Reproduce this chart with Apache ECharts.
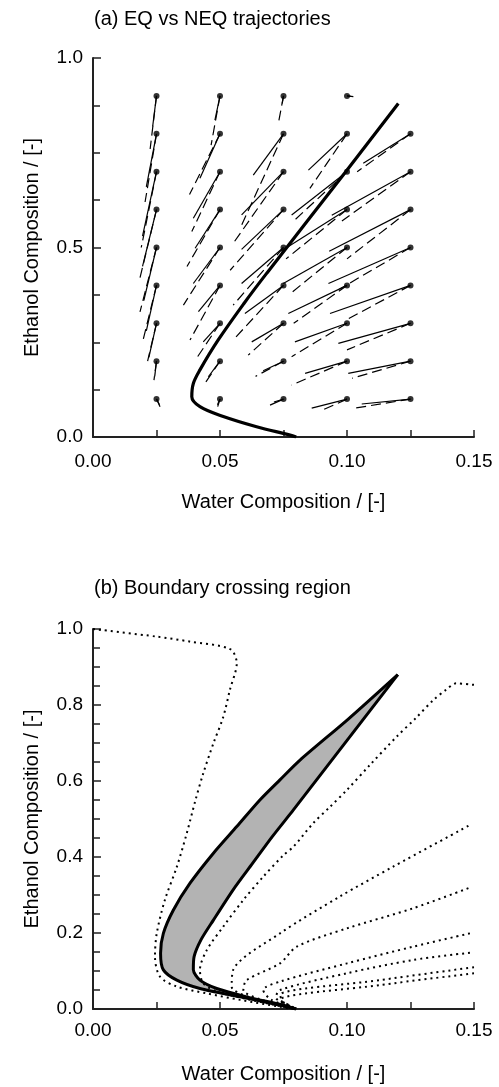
<!DOCTYPE html>
<html>
<head>
<meta charset="utf-8">
<script src="https://cdn.jsdelivr.net/npm/echarts/dist/echarts.min.js"></script>
<style>
html, body { margin: 0; padding: 0; background: #fff; }
#chart { width: 499px; height: 1087px; }
</style>
</head>
<body>
<div id="chart"></div>
<script>
// (a) trajectory start points, column by column
const startPts = [
	[0.025, 0.9], [0.025, 0.8], [0.025, 0.7], [0.025, 0.6], [0.025, 0.5], [0.025, 0.4], [0.025, 0.3], [0.025, 0.2], [0.025, 0.1],
	[0.05, 0.9], [0.05, 0.8], [0.05, 0.7], [0.05, 0.6], [0.05, 0.5], [0.05, 0.4], [0.05, 0.3], [0.05, 0.2], [0.05, 0.1],
	[0.075, 0.9], [0.075, 0.8], [0.075, 0.7], [0.075, 0.6], [0.075, 0.5], [0.075, 0.4], [0.075, 0.3], [0.075, 0.2], [0.075, 0.1],
	[0.1, 0.9], [0.1, 0.8], [0.1, 0.7], [0.1, 0.6], [0.1, 0.5], [0.1, 0.4], [0.1, 0.3], [0.1, 0.2], [0.1, 0.1],
	[0.125, 0.8], [0.125, 0.7], [0.125, 0.6], [0.125, 0.5], [0.125, 0.4], [0.125, 0.3], [0.125, 0.2], [0.125, 0.1]
];
// EQ trajectory ends (solid)
const eqEnds = [
	[0.0235, 0.82], [0.021, 0.66], [0.0195, 0.53], [0.0195, 0.45], [0.020, 0.36], [0.021, 0.28], [0.022, 0.21], [0.0243, 0.16], [0.0264, 0.08],
	[0.048, 0.836], [0.0421, 0.683], [0.0395, 0.577], [0.0402, 0.498], [0.0395, 0.405], [0.0415, 0.331], [0.0434, 0.251], [0.0454, 0.159], [0.0491, 0.08],
	[0.0745, 0.88], [0.0631, 0.691], [0.0585, 0.586], [0.0585, 0.495], [0.0585, 0.405], [0.0598, 0.326], [0.0625, 0.251], [0.067, 0.175], [0.0697, 0.084],
	[0.1025, 0.898], [0.0848, 0.704], [0.0782, 0.586], [0.074, 0.49], [0.0749, 0.405], [0.0769, 0.326], [0.0795, 0.251], [0.0835, 0.168], [0.0861, 0.076],
	[0.1064, 0.722], [0.094, 0.585], [0.093, 0.49], [0.0927, 0.405], [0.0933, 0.326], [0.0966, 0.247], [0.1005, 0.168], [0.1058, 0.087]
];
// NEQ trajectory ends (dashed)
const neqEnds = [
	[0.0225, 0.76], [0.0205, 0.62], [0.019, 0.50], [0.0185, 0.42], [0.0185, 0.33], [0.0195, 0.25], [0.0215, 0.20], [0.024, 0.15], [0.0262, 0.085],
	[0.0465, 0.77], [0.038, 0.64], [0.0389, 0.542], [0.037, 0.45], [0.0356, 0.348], [0.0382, 0.256], [0.0408, 0.208], [0.0441, 0.142], [0.049, 0.085],
	[0.073, 0.828], [0.0585, 0.559], [0.0552, 0.511], [0.054, 0.44], [0.0552, 0.348], [0.0552, 0.256], [0.0611, 0.216], [0.064, 0.16], [0.07, 0.09],
	[0.1015, 0.899], [0.0854, 0.656], [0.079, 0.57], [0.076, 0.47], [0.078, 0.38], [0.079, 0.30], [0.0782, 0.212], [0.0782, 0.137], [0.09, 0.07],
	[0.104, 0.70], [0.098, 0.57], [0.1, 0.47], [0.097, 0.39], [0.100, 0.31], [0.100, 0.23], [0.102, 0.155], [0.103, 0.076]
];
// distillation boundary in (a)
const boundaryA = [
	[0.08, 0.0], [0.0776, 0.005], [0.0644, 0.027], [0.0513, 0.054], [0.0421, 0.08], [0.0389, 0.106], [0.0395, 0.141],
	[0.0421, 0.177], [0.0493, 0.256], [0.0595, 0.353], [0.0685, 0.433], [0.0995, 0.70], [0.1202, 0.88]
];

// (b) crossing region edges
const regionLeft = [
	[0.12, 0.88], [0.1005, 0.763], [0.0815, 0.655], [0.0736, 0.603], [0.0657, 0.55], [0.0566, 0.48],
	[0.0474, 0.41], [0.0382, 0.331], [0.0316, 0.26], [0.0277, 0.199], [0.0266, 0.147], [0.0277, 0.103], [0.033, 0.076],
	[0.0421, 0.054], [0.0579, 0.032], [0.075, 0.008], [0.08, 0.0]
];
const regionRight = [
	[0.12, 0.88], [0.0789, 0.524], [0.0705, 0.453], [0.0628, 0.383], [0.0551, 0.313], [0.0474, 0.234], [0.0425, 0.182],
	[0.0398, 0.138], [0.0395, 0.103], [0.0421, 0.076], [0.0487, 0.054], [0.0605, 0.032], [0.075, 0.01], [0.08, 0.0]
];
// (b) dotted boundaries
const dotted1 = [
	[0, 1.0], [0.025, 0.98], [0.038, 0.967], [0.054, 0.947], [0.0566, 0.91], [0.0539, 0.84], [0.0513, 0.769], [0.0474, 0.699],
	[0.0434, 0.62], [0.0402, 0.546], [0.0369, 0.462], [0.033, 0.374], [0.0283, 0.287], [0.0251, 0.199], [0.0244, 0.138],
	[0.0264, 0.085], [0.033, 0.059], [0.0448, 0.041], [0.0579, 0.024], [0.0736, 0.006], [0.078, 0.0]
];
const dotted2 = [
	[0.15, 0.853], [0.143, 0.857], [0.139, 0.84], [0.134, 0.813], [0.127, 0.765], [0.1196, 0.717], [0.109, 0.642], [0.0999, 0.576],
	[0.0933, 0.532], [0.0867, 0.489], [0.0789, 0.427], [0.075, 0.405], [0.067, 0.348], [0.0592, 0.287], [0.0513, 0.217],
	[0.0448, 0.155], [0.0421, 0.103], [0.0434, 0.068], [0.0487, 0.046], [0.06, 0.027], [0.075, 0.006]
];
const dotted3 = [[0.1478, 0.482], [0.118, 0.374], [0.0972, 0.296], [0.0736, 0.199], [0.0552, 0.103], [0.0546, 0.059], [0.062, 0.03], [0.075, 0.008]];
const dotted4 = [[0.1478, 0.318], [0.126, 0.265], [0.0999, 0.212], [0.0802, 0.164], [0.0736, 0.12], [0.0605, 0.076], [0.0592, 0.05], [0.066, 0.025], [0.077, 0.005]];
const dotted5 = [[0.1484, 0.199], [0.126, 0.164], [0.0999, 0.12], [0.0736, 0.072], [0.067, 0.05], [0.07, 0.025], [0.078, 0.004]];
const dotted6 = [[0.1484, 0.148], [0.126, 0.129], [0.0999, 0.094], [0.0736, 0.05], [0.072, 0.03], [0.078, 0.006]];
const dotted7 = [[0.15, 0.11], [0.113, 0.076], [0.0736, 0.037], [0.075, 0.018], [0.079, 0.004]];
const dotted8 = [[0.15, 0.094], [0.113, 0.063], [0.0736, 0.024], [0.079, 0.004]];

const font = "'Liberation Sans', Arial, Helvetica, sans-serif";
const ink = "#222";

function xAxis(gridIndex, labelGap) {
	return {
		type: "value",
		gridIndex: gridIndex,
		min: 0,
		max: 0.15,
		interval: 0.05,
		name: "Water Composition / [-]",
		nameLocation: "middle",
		nameGap: 55,
		nameTextStyle: { fontSize: 20, color: "#000", fontFamily: font },
		axisLine: { show: true, lineStyle: { color: ink, width: 2 } },
		axisTick: { show: true, inside: true, length: 7, lineStyle: { color: ink, width: 1.5 } },
		minorTick: { show: true, splitNumber: 2, length: 7, lineStyle: { color: ink, width: 1.5 } },
		axisLabel: { fontSize: 19, color: "#000", fontFamily: font, margin: labelGap, formatter: (v) => v.toFixed(2) },
		splitLine: { show: false },
	};
}

function yAxis(gridIndex, step, minorSplit) {
	return {
		type: "value",
		gridIndex: gridIndex,
		min: 0,
		max: 1,
		interval: step,
		name: "Ethanol Composition / [-]",
		nameLocation: "middle",
		nameGap: 51,
		nameTextStyle: { fontSize: 20, color: "#000", fontFamily: font },
		axisLine: { show: true, lineStyle: { color: ink, width: 2 } },
		axisTick: { show: true, inside: true, length: 8, lineStyle: { color: ink, width: 1.5 } },
		minorTick: { show: true, splitNumber: minorSplit, length: 7, lineStyle: { color: ink, width: 1.5 } },
		axisLabel: { fontSize: 19, color: "#000", fontFamily: font, margin: 10, formatter: (v) => v.toFixed(1) },
		splitLine: { show: false },
	};
}

function segs(ends) {
	return startPts.map((p, i) => ({ coords: [p, ends[i]] }));
}

function dottedLine(pts) {
	return {
		type: "line",
		xAxisIndex: 1,
		yAxisIndex: 1,
		data: pts,
		symbol: "none",
		smooth: 0.3,
		silent: true,
		lineStyle: { color: "#000", width: 2, type: [2, 4] },
		z: 3,
	};
}

const regionPoly = regionLeft.concat(regionRight.slice().reverse());

var chart = echarts.init(document.getElementById("chart"), null, { renderer: "canvas" });

var option = {
	animation: false,
	backgroundColor: "#fff",
	title: [
		{ text: "(a) EQ vs NEQ trajectories", left: 94, top: 9, padding: 0, textStyle: { fontSize: 20, fontWeight: "normal", color: "#000", fontFamily: font } },
		{ text: "(b) Boundary crossing region", left: 94, top: 578, padding: 0, textStyle: { fontSize: 20, fontWeight: "normal", color: "#000", fontFamily: font } },
	],
	grid: [
		{ left: 93, top: 58, width: 381, height: 379 },
		{ left: 93, top: 629, width: 381, height: 380 },
	],
	xAxis: [xAxis(0, 15), xAxis(1, 12)],
	yAxis: [yAxis(0, 0.5, 4), yAxis(1, 0.2, 4)],
	series: [
		{
			type: "lines",
			coordinateSystem: "cartesian2d",
			xAxisIndex: 0,
			yAxisIndex: 0,
			data: segs(eqEnds),
			silent: true,
			lineStyle: { color: "#000", width: 1.2, opacity: 1 },
		},
		{
			type: "lines",
			coordinateSystem: "cartesian2d",
			xAxisIndex: 0,
			yAxisIndex: 0,
			data: segs(neqEnds),
			silent: true,
			lineStyle: { color: "#000", width: 1.2, opacity: 1, type: [10, 5] },
		},
		{
			type: "scatter",
			xAxisIndex: 0,
			yAxisIndex: 0,
			data: startPts,
			symbolSize: 6,
			itemStyle: { color: "#000" },
			silent: true,
		},
		{
			type: "line",
			xAxisIndex: 0,
			yAxisIndex: 0,
			data: boundaryA,
			symbol: "none",
			smooth: 0.35,
			silent: true,
			lineStyle: { color: "#000", width: 3.2 },
			z: 4,
		},
		{
			type: "custom",
			xAxisIndex: 1,
			yAxisIndex: 1,
			data: regionPoly,
			silent: true,
			z: 1,
			renderItem: function (params, api) {
				if (params.dataIndex !== 0) return null;
				return {
					type: "polygon",
					shape: { points: regionPoly.map((p) => api.coord(p)) },
					style: { fill: "#b3b3b3", stroke: null },
				};
			},
		},
		{
			type: "line",
			xAxisIndex: 1,
			yAxisIndex: 1,
			data: regionLeft,
			symbol: "none",
			smooth: 0.25,
			silent: true,
			lineStyle: { color: "#000", width: 3 },
			z: 4,
		},
		{
			type: "line",
			xAxisIndex: 1,
			yAxisIndex: 1,
			data: regionRight,
			symbol: "none",
			smooth: 0.25,
			silent: true,
			lineStyle: { color: "#000", width: 3 },
			z: 4,
		},
		dottedLine(dotted1),
		dottedLine(dotted2),
		dottedLine(dotted3),
		dottedLine(dotted4),
		dottedLine(dotted5),
		dottedLine(dotted6),
		dottedLine(dotted7),
		dottedLine(dotted8),
	],
};

chart.setOption(option);
</script>
</body>
</html>
